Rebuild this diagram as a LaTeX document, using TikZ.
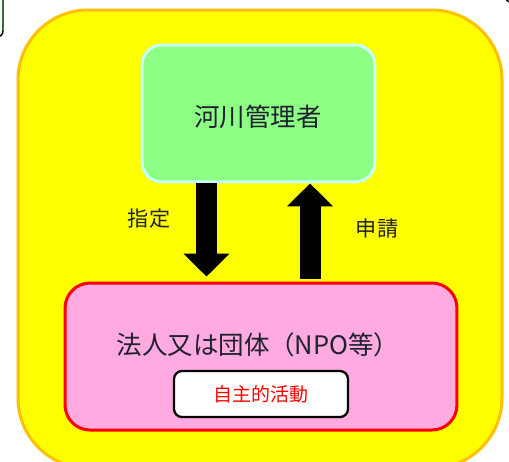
\documentclass[tikz,border=0pt]{standalone}
\usepackage{fontspec}
\setmainfont{Noto Sans CJK JP}
\usepackage{tikz}
\usetikzlibrary{arrows.meta}

\definecolor{outeryellow}{HTML}{FFFF00}
\definecolor{outeredge}{HTML}{FFC000}
\definecolor{kasengreen}{HTML}{8CFF84}
\definecolor{kasenedge}{HTML}{C8FFFF}
\definecolor{hojinpink}{HTML}{FFAAE0}
\definecolor{hojinedge}{HTML}{FF0000}
\definecolor{textdark}{HTML}{202030}

\tikzset{
  mainbox/.style={rounded corners=0.4cm, line width=0.06cm, inner sep=0pt},
  actbox/.style={draw=black, fill=white, rounded corners=0.16cm, line width=0.045cm,
    minimum width=3.48cm, minimum height=0.92cm, text=red, font=\fontsize{10.8pt}{12pt}\selectfont},
  bigtext/.style={text=textdark, font=\fontsize{14.5pt}{16pt}\selectfont},
  sidetext/.style={text=textdark, font=\fontsize{12pt}{14pt}\selectfont},
  blockarrow/.style={line width=0.42cm, draw=black,
    -{Triangle[width=0.9cm, length=0.46cm]}}
}

\begin{document}
\begin{tikzpicture}[x=0.02cm, y=-0.02cm]
    \useasboundingbox (0,0) rectangle (509,461);
    % cut-off boxes at the edges
    \draw[fill=green!8, line width=0.03cm, rounded corners=0.12cm] (-40,-20) rectangle (3,37);
    \draw[line width=0.03cm, rounded corners=0.12cm] (505,-20) rectangle (560,2);
    % outer frame
    \draw[fill=outeryellow, draw=outeredge, line width=0.06cm, rounded corners=1.4cm]
      (18,10) rectangle (502,468);
    \node[mainbox, draw=kasenedge, fill=kasengreen, minimum width=4.66cm, minimum height=2.74cm]
      (kasen) at (258.5,113.5) {};
    \node[bigtext] (kasentext) at (258,117) {河川管理者};
    \node[mainbox, rounded corners=0.5cm, draw=hojinedge, fill=hojinpink, minimum width=7.84cm, minimum height=2.94cm]
      (hojin) at (261,356.5) {};
    \node[bigtext] (hojintext) at (258,345) {法人又は団体（NPO等）};
    \node[actbox] (jishu) at (261,394) {自主的活動};
    \coordinate (downx) at (206.5,0);
    \coordinate (upx) at (310,0);
    \draw[blockarrow, shorten >=0.1cm] (kasen.south -| downx) -- (hojin.north -| downx);
    \draw[blockarrow, shorten <=0.06cm] (hojin.north -| upx) -- (kasen.south -| upx);
    \node[sidetext] (shitei) at (149,219) {指定};
    \node[sidetext] (shinsei) at (377,228) {申請};
  \end{tikzpicture}
\end{document}
